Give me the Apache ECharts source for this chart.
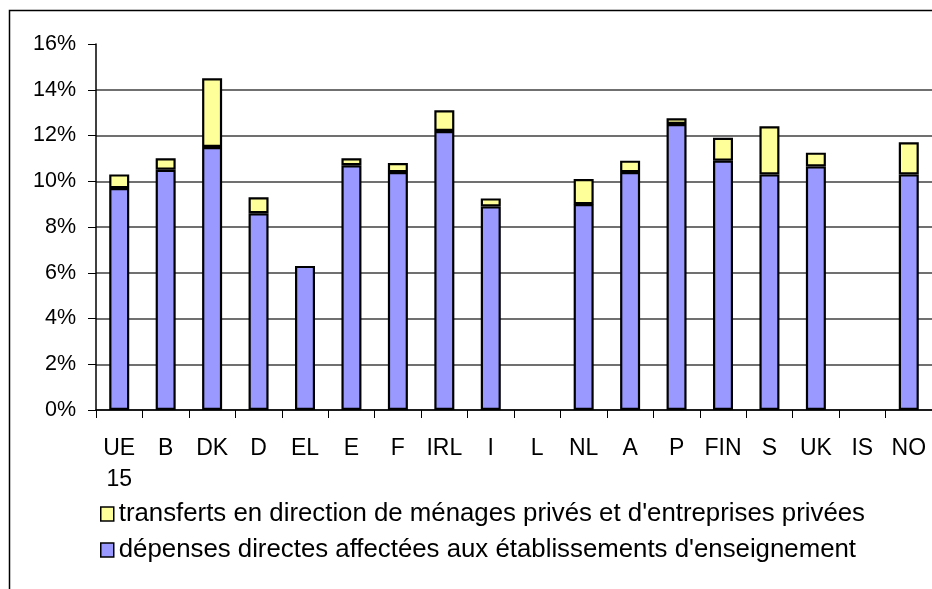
<!DOCTYPE html>
<html>
<head>
<meta charset="utf-8">
<script src="https://cdn.jsdelivr.net/npm/echarts@6/dist/echarts.min.js"></script>
<style>
  html, body { margin: 0; padding: 0; background: #fff; }
  #chart { width: 932px; height: 589px; }
</style>
</head>
<body>
<div id="chart"></div>
<script>
// Countries (UE 15 split over two lines)
const categories = ['UE\n15', 'B', 'DK', 'D', 'EL', 'E', 'F', 'IRL', 'I', 'L', 'NL', 'A', 'P', 'FIN', 'S', 'UK', 'IS', 'NO'];
// Direct spending on educational institutions, % of total
const directSpending = [9.7, 10.5, 11.5, 8.6, 6.3, 10.7, 10.4, 12.2, 8.9, null, 9.0, 10.4, 12.5, 10.9, 10.3, 10.65, null, 10.3];
// Transfers to private households and private firms, % of total
const transfers = [0.6, 0.5, 3.0, 0.7, null, 0.3, 0.4, 0.9, 0.35, null, 1.1, 0.5, 0.25, 1.0, 2.1, 0.6, null, 1.4];
// Y-axis ticks
const yTicks = [0, 2, 4, 6, 8, 10, 12, 14, 16];

const nameTransfers = "transferts en direction de ménages privés et d'entreprises privées";
const nameDirect = "dépenses directes affectées aux établissements d'enseignement";

const baseFont = "'Liberation Sans', Arial, sans-serif";

const chart = echarts.init(document.getElementById('chart'));

// Gridlines at every tick except the top one
const gridColors = yTicks.map((v, i) => i === yTicks.length - 1 ? 'rgba(0,0,0,0)' : '#404040');

chart.setOption({
  animation: false,
  backgroundColor: '#ffffff',
  graphic: [{
    type: 'rect',
    shape: { x: 9.5, y: 10.5, width: 940, height: 600 },
    style: { fill: 'none', stroke: '#000', lineWidth: 1.5 },
    silent: true
  }],
  grid: { left: 96, top: 44, width: 841, height: 366 },
  legend: {
    orient: 'vertical',
    left: 95,
    top: 494,
    itemWidth: 13,
    itemHeight: 14,
    itemGap: 6,
    icon: 'rect',
    data: [nameTransfers, nameDirect],
    itemStyle: { borderColor: '#000', borderWidth: 1.5 },
    textStyle: { fontFamily: baseFont, fontSize: 25.8, lineHeight: 30, color: '#000' }
  },
  xAxis: {
    type: 'category',
    data: categories,
    boundaryGap: true,
    axisLine: { lineStyle: { color: '#000', width: 1.5 } },
    axisTick: { show: true, alignWithLabel: false, length: 8, lineStyle: { color: '#000', width: 1 } },
    axisLabel: {
      interval: 0,
      margin: 23,
      color: '#000',
      fontFamily: baseFont,
      fontSize: 23,
      lineHeight: 31,
      verticalAlign: 'top'
    }
  },
  yAxis: {
    type: 'value',
    min: 0,
    max: 16,
    interval: 2,
    axisLine: { show: true, lineStyle: { color: '#000', width: 1.5 } },
    axisTick: { show: true, length: 8, lineStyle: { color: '#000', width: 1 } },
    axisLabel: {
      formatter: '{value}%',
      margin: 20,
      color: '#000',
      fontFamily: baseFont,
      fontSize: 21.5
    },
    splitLine: { show: true, lineStyle: { color: gridColors, width: 1.6 } }
  },
  series: [
    {
      name: nameDirect,
      type: 'bar',
      stack: 'total',
      data: directSpending,
      barWidth: 20,
      itemStyle: { color: '#9999ff', borderColor: '#000', borderWidth: 2.2 }
    },
    {
      name: nameTransfers,
      type: 'bar',
      stack: 'total',
      data: transfers,
      barWidth: 20,
      itemStyle: { color: '#ffff99', borderColor: '#000', borderWidth: 2.2 }
    }
  ]
});
</script>
</body>
</html>
